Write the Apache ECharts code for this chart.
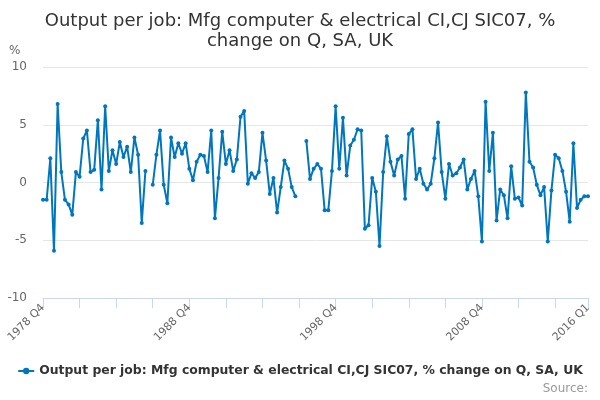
<!DOCTYPE html>
<html>
<head>
<meta charset="utf-8">
<script src="https://cdn.jsdelivr.net/npm/echarts@6/dist/echarts.min.js"></script>
<style>
  html, body { margin: 0; padding: 0; background: #fff; }
  #chart { width: 600px; height: 400px; }
</style>
</head>
<body>
<div id="chart"></div>
<script>
// quarterly series, 1978 Q4 .. 2016 Q1 (null = no value)
var firstYear = 1978;
var firstQuarter = 4;
var quarterCount = 150;

var changeValues = [
    -1.5, -1.5, 2.1, -5.9, 6.8, 0.9, -1.5, -1.9, -2.8, 0.9,
    0.5, 3.8, 4.5, 0.9, 1.1, 5.4, -0.6, 6.6, 1.0, 2.8,
    1.6, 3.5, 2.2, 3.1, 0.9, 3.9, 2.4, -3.5, 1.0, null,
    -0.2, 2.4, 4.5, -0.2, -1.8, 3.9, 2.2, 3.4, 2.5, 3.4,
    1.2, 0.2, 1.8, 2.4, 2.3, 0.9, 4.5, -3.1, 0.4, 4.4,
    1.6, 2.8, 1.0, 2.0, 5.7, 6.2, -0.1, 0.8, 0.4, 0.9,
    4.3, 1.9, -1.0, 0.4, -2.6, -0.4, 1.9, 1.2, -0.4, -1.2,
    null, null, 3.6, 0.3, 1.2, 1.6, 1.2, -2.4, -2.4, 1.0,
    6.6, 1.2, 5.6, 0.6, 3.2, 3.7, 4.6, 4.5, -4.0, -3.7,
    0.4, -0.8, -5.5, 0.9, 4.0, 1.8, 0.6, 2.0, 2.3, -1.4,
    4.2, 4.6, 0.3, 1.2, -0.1, -0.6, -0.1, 2.1, 5.2, 0.9,
    -1.4, 1.6, 0.6, 0.8, 1.3, 2.0, -0.6, 0.3, 1.0, -1.2,
    -5.1, 7.0, 1.0, 4.3, -3.3, -0.6, -1.1, -3.1, 1.4, -1.4,
    -1.3, -2.0, 7.8, 1.8, 1.3, -0.2, -1.1, -0.4, -5.1, -0.7,
    2.4, 2.1, 1.0, -0.8, -3.4, 3.4, -2.2, -1.5, -1.2, -1.2
];

var labelledQuarters = ['1978 Q4', '1988 Q4', '1998 Q4', '2008 Q4', '2016 Q1'];

var quarters = [];
for (var i = 0; i < quarterCount; i++) {
    var q = firstQuarter - 1 + i;
    quarters.push((firstYear + Math.floor(q / 4)) + ' Q' + (q % 4 + 1));
}

var seriesName = 'Output per job: Mfg computer & electrical CI,CJ SIC07, % change on Q, SA, UK';
var lineColor = '#0076bd';

var chart = echarts.init(document.getElementById('chart'));
var option = {
    animation: false,
    textStyle: { fontFamily: 'DejaVu Sans' },
    title: {
        text: 'Output per job: Mfg computer & electrical CI,CJ SIC07, %\nchange on Q, SA, UK',
        left: 'center',
        top: 6,
        textStyle: {
            color: '#333',
            fontWeight: 'normal',
            fontSize: 18,
            lineHeight: 20,
            fontFamily: 'DejaVu Sans'
        }
    },
    graphic: [
        {
            type: 'text',
            left: 9,
            top: 45,
            style: { text: '%', fill: '#666', font: '12px DejaVu Sans' }
        },
        {
            type: 'text',
            right: 12,
            top: 383,
            style: { text: 'Source:', fill: '#999', font: '12px DejaVu Sans' }
        }
    ],
    legend: {
        data: [seriesName],
        bottom: 18,
        left: 'center',
        itemWidth: 16,
        itemHeight: 8,
        itemGap: 6,
        textStyle: {
            color: '#333',
            fontWeight: 'bold',
            fontSize: 12.4,
            fontFamily: 'DejaVu Sans'
        }
    },
    grid: {
        left: 43,
        right: 12,
        top: 67,
        height: 231
    },
    xAxis: {
        type: 'category',
        boundaryGap: false,
        data: quarters,
        axisLine: { onZero: false, lineStyle: { color: '#ccd6eb' } },
        axisTick: {
            length: 10,
            interval: function (index) {
                return index % 10 === 0 || index === quarterCount - 1;
            },
            lineStyle: { color: '#ccd6eb' }
        },
        axisLabel: {
            rotate: 45,
            margin: 8,
            color: '#666',
            fontSize: 11,
            interval: function (index, value) {
                return labelledQuarters.indexOf(value) >= 0;
            }
        },
        splitLine: { show: false }
    },
    yAxis: {
        type: 'value',
        min: -10,
        max: 10,
        interval: 5,
        axisLine: { show: false },
        axisTick: { show: false },
        axisLabel: {
            color: '#666',
            fontSize: 12,
            margin: 16
        },
        splitLine: { lineStyle: { color: '#e6e6e6' } }
    },
    series: [
        {
            name: seriesName,
            type: 'line',
            data: changeValues,
            connectNulls: false,
            color: lineColor,
            symbol: 'circle',
            symbolSize: 4,
            showAllSymbol: true,
            lineStyle: { width: 2, color: lineColor },
            itemStyle: { color: lineColor }
        }
    ]
};
chart.setOption(option);
</script>
</body>
</html>
